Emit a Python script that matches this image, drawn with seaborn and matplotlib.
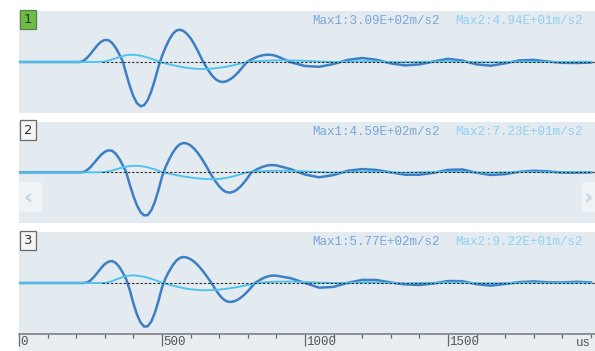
import matplotlib
matplotlib.use("Agg")
import matplotlib.pyplot as plt
import matplotlib.transforms as mtransforms
from matplotlib.patches import Rectangle
import seaborn as sns

# ---------------- data (display amplitude, time in us) ----------------
# sample times for the strong channel (Max1 trace)
time_ch1 = [0, 200, 212.5, 225, 237.5, 250, 262.5, 275, 287.5, 300,
            312.5, 325, 337.5, 350, 362.5, 375, 387.5, 400,
            412.5, 425, 437.5, 450, 462.5, 475, 487.5, 500,
            512.5, 525, 537.5, 550, 562.5, 575, 587.5, 600,
            612.5, 625, 637.5, 650, 662.5, 675, 687.5, 700,
            712.5, 725, 737.5, 750, 762.5, 775, 787.5, 800,
            812.5, 825, 837.5, 850, 862.5, 875, 887.5, 900,
            950, 1000, 1050, 1100, 1150, 1200, 1250, 1300, 1350, 1400, 1450,
            1500, 1550, 1600, 1650, 1700, 1750, 1800, 1850, 1900, 1950, 2000]
# sample times for the weak channel (Max2 trace)
time_ch2 = [0, 200, 225, 250, 275, 300, 325, 350, 375, 400, 425, 450, 475, 500,
            525, 550, 575, 600, 625, 650, 675, 700, 725, 750, 775, 800, 825, 850,
            875, 900, 950, 1000, 1050, 1100, 1150, 1200, 1250, 1300, 1350, 1400,
            1450, 1500, 1550, 1600, 1650, 1700, 1750, 1800, 1850, 1900, 1950, 2000]

ch1_p1 = [0, 0, 0, 1.1, 4, 8, 12.6, 17, 20.4, 22,
          21.9, 19.2, 14.5, 8.1, 0.9, -11.9, -24.2, -34.3,
          -41.2, -44.3, -43.2, -38.1, -29.3, -18, -4.9, 5.9,
          14.7, 22.3, 28, 31.5, 32.3, 31, 28.1, 23.7,
          18, 11.2, 3.9, -2.8, -8.5, -13.5, -17.2, -19.4,
          -20, -19.3, -17.5, -14.9, -11.5, -7.5, -3.1, 0.6,
          2.5, 4.2, 5.6, 6.6, 7.2, 7.3, 6.9, 6.0,
          -0.2, -4, -4.8, -2, 2.1, 4, 2.2, -1.4, -3.4, -2.4, 0.5,
          3.2, 1.4, -2.4, -3.7, -1.3, 1.6, 2.1, 0.4, -0.8, -1, -0.5]
ch2_p1 = [0, 0, 0, 0, 0, 0.45, 2.4, 4.9, 6.9, 7.3, 6.4, 4.5, 2, -0.6,
          -2.3, -3.9, -5.3, -6.3, -6.9, -7, -6.6, -5.8, -4.7, -3.2, -1.5, 0.1, 0.6, 1.1,
          1.4, 1.6, 1.6, 1.2, 0.5, 0, 0.3, 0.8, 0.6, 0, -0.3, 0,
          0.4, 0.6, 0.3, -0.2, -0.3, 0, 0.3, 0.3, 0, 0, 0.2, 0.2]

ch1_p2 = [0, 0, 0, 0.3, 2.1, 5.3, 9.4, 13.8, 17.8, 20.7,
          22.2, 21.8, 19, 14, 7.4, 0, -12.5, -23.9,
          -33.3, -40, -43.3, -43, -38.3, -29.7, -18, -4.5,
          5.4, 13.1, 19.8, 25, 28.3, 29.6, 29, 27.1,
          23.9, 19.6, 14.4, 8.6, 2.3, -3.8, -9.3, -14.1,
          -17.7, -19.9, -20.4, -19.5, -17.3, -14.1, -10, -5.3,
          0, 1.9, 3.8, 5.4, 6.5, 7.2, 7.3, 7,
          3.2, -2.2, -5, -2.7, 1.6, 3.3, 2.4, 0, -2.4, -2.4, -0.5,
          2.5, 2.9, -0.5, -2.6, -1.8, 0.6, 1.6, 1, -0.3, -0.3, 0]
ch2_p2 = [0, 0, 0, 0, 0, 0.3, 1.8, 3.9, 5.8, 6.6, 6.4, 5.1, 3, 0.3,
          -1.3, -2.8, -4.1, -5.2, -6.1, -6.7, -6.9, -6.6, -5.6, -4, -1.9, 0.2, 0.7, 1.2,
          1.5, 1.6, 1.5, 1, 0.3, -0.2, 0.2, 0.8, 0.6, 0, -0.3, 0,
          0.3, 0.6, 0.4, -0.2, -0.3, 0, 0.3, 0.4, 0.1, 0, 0.2, 0.2]

ch1_p3 = [0, 0, 0, 0, 0.4, 2.6, 6.2, 10.6, 15.1, 18.9,
          21.3, 22, 20.3, 16.4, 10.6, 3.6, -7.2, -20.4,
          -31.5, -39.5, -43.6, -43.3, -38.6, -29.9, -18.1, -4.5,
          4.9, 11.8, 17.8, 22.3, 25.1, 26, 25.4, 23.8,
          21.3, 17.9, 13.9, 9.3, 4.3, -0.9, -6.6, -11.7,
          -15.7, -18.2, -19, -18.5, -17.1, -14.8, -11.8, -8.2,
          -4.2, 0, 2.2, 4.3, 5.9, 7, 7.4, 7.3,
          4.8, 0, -4.7, -3.9, 0.2, 3.1, 3, 0.5, -1.4, -2, -0.5,
          2, 1.8, -1.2, -2.6, -1, 0.9, 1.6, 0.7, 0.5, 1.2, 0.6]
ch2_p3 = [0, 0, 0, 0, 0, 0.1, 1.8, 4.7, 7.1, 7.7, 6.9, 5.3, 3, 0.2,
          -1.7, -3.5, -5.1, -6.3, -7, -7.3, -7.1, -6.6, -5.8, -4.7, -3.4, -2, -0.4, 0.5,
          1.0, 1.3, 1.4, 1, 0.4, 0, 0.2, 0.7, 0.6, 0, -0.3, 0,
          0.3, 0.6, 0.4, -0.1, -0.3, 0, 0.3, 0.4, 0.1, 0, 0.3, 0.3]

panel_ids = ["1", "2", "3"]
max1_labels = ["Max1:3.09E+02m/s2", "Max1:4.59E+02m/s2", "Max1:5.77E+02m/s2"]
max2_labels = ["Max2:4.94E+01m/s2", "Max2:7.23E+01m/s2", "Max2:9.22E+01m/s2"]
ch1_series = [ch1_p1, ch1_p2, ch1_p3]
ch2_series = [ch2_p1, ch2_p2, ch2_p3]
baseline_start = 290
x_ticks = [0, 500, 1000, 1500]
x_tick_labels = ["0", "500", "1000", "1500"]
x_minor_ticks = [0, 100, 200, 300, 400, 500, 600, 700, 800, 900, 1000,
                 1100, 1200, 1300, 1400, 1500, 1600, 1700, 1800, 1900, 2000]
x_unit = "us"

# ---------------- style ----------------
W, H = 595, 351
BG = "#e3eaf0"
DARK = "#3d7fc5"
LIGHT = "#4cc2ee"
MAX1_C = "#78a6da"
MAX2_C = "#8dd2f0"
MONO = ["Liberation Mono", "DejaVu Sans Mono"]

fig = plt.figure(figsize=(W / 100, H / 100), dpi=100)
fig.patch.set_facecolor("white")

# bottom strip (axis area)
fig.patches.append(Rectangle((19 / W, 0), 1 - 19 / W, 1 - 334 / H,
                             transform=fig.transFigure, facecolor="#e7edf1",
                             edgecolor="none", zorder=-1))

panel_px = [(11, 113), (121.7, 223), (232, 334)]
box_colors = ["#6cbd45", "#f3f5f7", "#f3f5f7"]
box_edges = ["#5d7f4c", "#6a6a6a", "#6a6a6a"]

axes = []
for i in range(3):
    top, bot = panel_px[i]
    ax = fig.add_axes([19 / W, 1 - bot / H, (W - 19) / W, (bot - top) / H])
    ax.set_facecolor(BG)
    ax.set_xlim(0, 2014)
    ax.set_ylim(-51, 51)
    for s in ax.spines.values():
        s.set_visible(False)
    ax.set_yticks([])

    sns.lineplot(x=time_ch1, y=ch1_series[i], ax=ax, color=DARK, linewidth=1.8,
                 sort=False, estimator=None, zorder=2)
    sns.lineplot(x=time_ch2, y=ch2_series[i], ax=ax, color=LIGHT, linewidth=1.35,
                 sort=False, estimator=None, zorder=3)
    ax.plot([baseline_start, 2014], [0, 0], color="#333333", linewidth=0.8,
            linestyle=(0, (2.2, 1.6)), zorder=4)
    ax.set_xlabel("")
    ax.set_ylabel("")

    # panel number box
    ax.text(9 / 576, 1 - 8.5 / (bot - top), panel_ids[i], transform=ax.transAxes,
            ha="center", va="center", fontsize=9.5, color="#333333",
            family=["DejaVu Sans"],
            bbox=dict(boxstyle="square,pad=0.25", facecolor=box_colors[i],
                      edgecolor=box_edges[i], linewidth=0.9))
    # max labels
    ax.text((312 - 19) / 576, 1 - 10 / (bot - top), max1_labels[i],
            transform=ax.transAxes, ha="left", va="center", fontsize=9,
            color=MAX1_C, family=MONO)
    ax.text((455 - 19) / 576, 1 - 10 / (bot - top), max2_labels[i],
            transform=ax.transAxes, ha="left", va="center", fontsize=9,
            color=MAX2_C, family=MONO)

    if i < 2:
        ax.set_xticks([])
    axes.append(ax)

# x axis on bottom panel
ax3 = axes[2]
ax3.spines["bottom"].set_visible(True)
ax3.spines["bottom"].set_color("#808080")
ax3.spines["bottom"].set_linewidth(1.2)
ax3.set_xticks(x_ticks)
ax3.set_xticklabels(x_tick_labels, ha="left", family=MONO, fontsize=9,
                    color="#555555")
ax3.set_xticks(x_minor_ticks, minor=True)
ax3.tick_params(axis="x", which="major", direction="out", length=8.6, width=0.9,
                color="#666666", pad=-7.0)
ax3.tick_params(axis="x", which="minor", direction="out", length=2.9, width=0.9,
                color="#666666")
offset = mtransforms.ScaledTranslation(1.5 / 100, 0, fig.dpi_scale_trans)
for lab in ax3.get_xticklabels():
    lab.set_transform(lab.get_transform() + offset)

fig.text(591 / W, 1 - 343 / H, x_unit, ha="right", va="center", fontsize=9,
         color="#555555", family=MONO)

# faint navigation arrows on middle panel
for xl, wd, glyph in [(13, 29, "\u2039"), (582, 13, "\u203a")]:
    fig.patches.append(Rectangle((xl / W, 1 - 212 / H), wd / W, 30 / H,
                                 transform=fig.transFigure,
                                 facecolor="white", alpha=0.45, edgecolor="none",
                                 zorder=5))
    fig.text((xl + wd / 2) / W, 1 - 197 / H, glyph, ha="center",
             va="center", fontsize=16, color="#c5d3e0", zorder=6,
             family=["DejaVu Sans"], fontweight="bold")

fig.savefig("out.png", dpi=100, facecolor="white")
